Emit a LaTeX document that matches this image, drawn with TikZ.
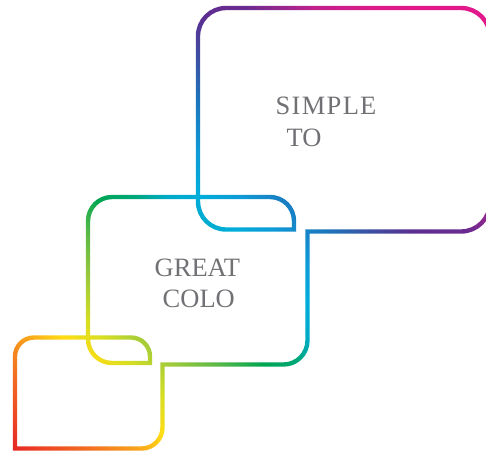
\documentclass[tikz,border=0pt]{standalone}
\usepackage{fontspec}
\setmainfont{Liberation Serif}
\usepackage{tikz}
\usetikzlibrary{fadings}

\definecolor{wordgray}{RGB}{112,113,116}
\definecolor{sred}{HTML}{E31E24}
\definecolor{sredorange}{HTML}{EC4524}
\definecolor{sorange}{HTML}{F26F21}
\definecolor{samber}{HTML}{F7A11B}
\definecolor{syellow}{HTML}{FFDD15}
\definecolor{slime}{HTML}{D6DE23}
\definecolor{sleaf}{HTML}{A1CB3A}
\definecolor{sgrass}{HTML}{5CB947}
\definecolor{sgreen}{HTML}{00A651}
\definecolor{steal}{HTML}{00A77A}
\definecolor{saqua}{HTML}{00ABC8}
\definecolor{scyan}{HTML}{00ADDB}
\definecolor{ssky}{HTML}{0E9BD7}
\definecolor{sblue}{HTML}{1C75BC}
\definecolor{sindigo}{HTML}{3A53A4}
\definecolor{spurple}{HTML}{5B2E91}
\definecolor{sviolet}{HTML}{6E2B90}
\definecolor{smagenta}{HTML}{C0218D}
\definecolor{spink}{HTML}{E0198A}
\definecolor{srose}{HTML}{E6198B}
% colour run along the diagonal, red at bottom left, pink at top right
\pgfdeclarehorizontalshading{spectrum}{100bp}{%
  color(0bp)=(sred); color(15bp)=(sred);
  color(18bp)=(sredorange); color(21.5bp)=(sorange);
  color(25bp)=(samber); color(28bp)=(syellow);
  color(31bp)=(slime); color(34bp)=(sleaf);
  color(37.5bp)=(sgrass); color(41bp)=(sgreen);
  color(44bp)=(steal); color(46.5bp)=(saqua);
  color(49bp)=(scyan); color(52bp)=(ssky);
  color(56bp)=(sblue); color(59bp)=(sindigo);
  color(62.5bp)=(spurple); color(67bp)=(sviolet);
  color(72bp)=(smagenta); color(77bp)=(spink);
  color(100bp)=(srose)}

% Outline of the three linked boxes, used as a mask
\begin{tikzfadingfrompicture}[name=ribbon, x=1pt, y=-1pt]
	\useasboundingbox (0,0) rectangle (486,452);
	\draw [transparent!0, line width=4.4pt]
	% top box
	(400,231.5) -- (461,231.5) arc [start angle=90, end angle=0, radius=29]
	-- (490,37) arc [start angle=0, end angle=-90, radius=29]
	-- (226,8) arc [start angle=-90, end angle=-180, radius=28]
	-- (198,201.5) arc [start angle=180, end angle=90, radius=28]
	-- (294,229.5) -- (294,221) arc [start angle=0, end angle=-90, radius=24]
	% middle box
	-- (112,197) arc [start angle=-90, end angle=-180, radius=24]
	-- (88,339) arc [start angle=180, end angle=90, radius=24]
	-- (150,363) -- (150,356.5) arc [start angle=0, end angle=-90, radius=19]
	% small box
	-- (34,337.5) arc [start angle=-90, end angle=-180, radius=19]
	-- (15,448.5) -- (141.5,448.5) arc [start angle=90, end angle=0, radius=21]
	-- (162.5,364.5) -- (283.5,364.5) arc [start angle=90, end angle=0, radius=24]
	-- (307.5,231.5) -- cycle;
\end{tikzfadingfrompicture}

\begin{document}
\begin{tikzpicture} [x=1pt, y=-1pt, font=\fontsize{26.5}{26.5}\selectfont, text=wordgray]
	\useasboundingbox (0,0) rectangle (486,452);
	% the outline, filled with the colour run through the mask
	\shade [path fading=ribbon, fit fading=false, fading transform={shift={(243,226)}},
	shading=spectrum, shading angle=45]
	(0,0) rectangle (486,452);

	% Words
	\node (simple) [anchor=base west, inner sep=0pt] at (275.5,114.5)
	{S\kern1.3pt I\kern1.3pt M\kern1.3pt P\kern1.3pt L\kern1.3pt E};
	\node (to) [anchor=base west, inner sep=0pt] at (286.5,146.5) {TO};
	\node (great) [anchor=base west, inner sep=0pt] at (154.5,276) {GREAT};
	\node (colo) [anchor=base west, inner sep=0pt] at (162.5,307.5) {COLO};
\end{tikzpicture}
\end{document}
